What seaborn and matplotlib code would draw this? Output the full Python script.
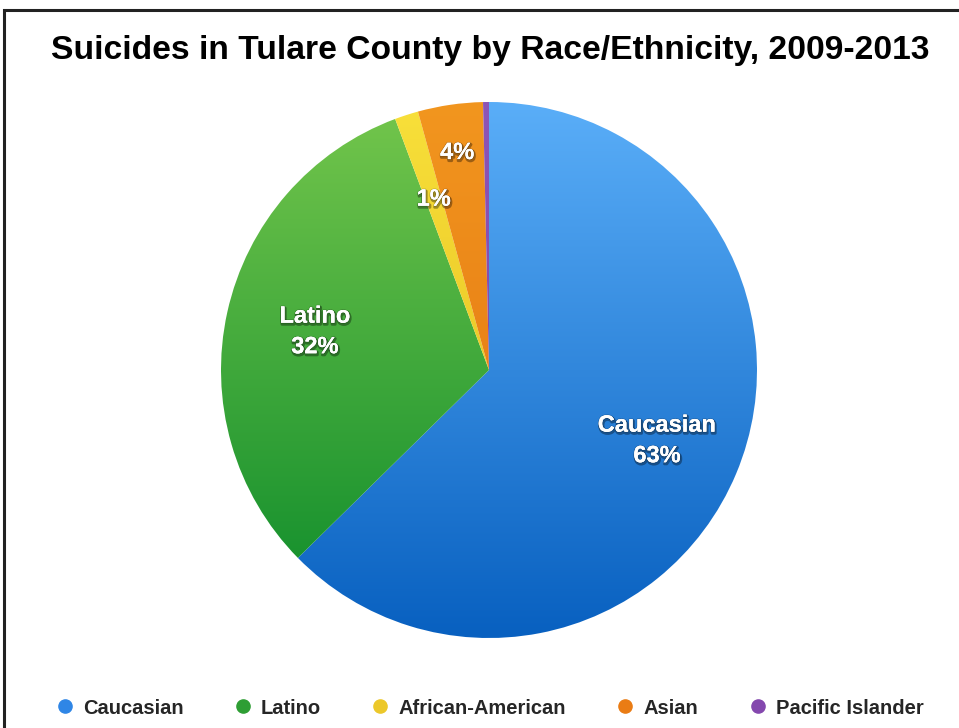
import numpy as np
import matplotlib
matplotlib.use("Agg")
import matplotlib.pyplot as plt
from matplotlib.colors import LinearSegmentedColormap
from matplotlib.lines import Line2D
import matplotlib.patheffects as pe
import seaborn as sns

# Suicide counts by race/ethnicity, Tulare County 2009-2013
groups = ["Caucasian", "Latino", "African-American", "Asian", "Pacific Islander"]
counts = [176, 89, 4, 11, 1]
show_label = [True, True, True, True, False]
show_name = [True, True, False, False, False]

# (light top, dark bottom) gradient stops for each slice
top_colors = ["#5aaef8", "#74c64c", "#f8e03a", "#f2961f", "#8e55b6"]
bottom_colors = ["#0860c0", "#0a8a2a", "#e0b418", "#e06e0e", "#7a3fa2"]
legend_colors = ["#2f86e6", "#2e9e34", "#ecc82a", "#ea7c14", "#8448ae"]

sns.set_theme(style="white")
plt.rcParams["font.family"] = ["Liberation Sans", "DejaVu Sans"]

W, H = 959, 728
fig = plt.figure(figsize=(W / 100, H / 100), dpi=100)
fig.patch.set_facecolor("white")

# frame around the figure area
frame = fig.add_axes([0, 0, 1, 1], zorder=-5)
frame.set_xlim(0, W)
frame.set_ylim(H, 0)
frame.axis("off")
frame.plot([4, 4, W + 5], [H + 5, 10, 10], color="#222222", lw=2.2,
           solid_joinstyle="miter")

cx, cy, R = 489, 370, 268
ax = fig.add_axes([(cx - R) / W, (H - cy - R) / H, 2 * R / W, 2 * R / H])

wedges, _ = ax.pie(counts, startangle=90, counterclock=False, radius=1,
                   colors=["none"] * len(counts),
                   wedgeprops=dict(linewidth=0))

grad = np.linspace(0, 1, 256).reshape(-1, 1)
for w, c0, c1 in zip(wedges, top_colors, bottom_colors):
    cmap = LinearSegmentedColormap.from_list("g", [c0, c1])
    im = ax.imshow(grad, cmap=cmap, extent=[-1, 1, -1, 1], origin="upper",
                   aspect="auto", interpolation="bicubic", zorder=1)
    im.set_clip_path(w)
ax.set_xlim(-1, 1)
ax.set_ylim(-1, 1)
ax.set_aspect("equal")
ax.axis("off")

total = sum(counts)
label_radius = [0.68, 0.665, 0.67, 0.82, 0.67]
for w, g, n, shown, named, r in zip(wedges, groups, counts, show_label,
                                     show_name, label_radius):
    if not shown:
        continue
    mid = np.deg2rad((w.theta1 + w.theta2) / 2)
    pct = f"{round(100 * n / total)}%"
    txt = f"{g}\n{pct}" if named else pct
    t = ax.text(r * np.cos(mid), r * np.sin(mid), txt, ha="center",
                va="center", color="white", fontsize=17, fontweight="bold",
                linespacing=1.42, zorder=5)
    t.set_path_effects([
        pe.SimpleLineShadow(offset=(0.6, -1.2), shadow_color="black",
                            alpha=0.35, linewidth=2.0),
        pe.withStroke(linewidth=1.2, foreground=(0, 0, 0, 0.18)),
        pe.Normal()])

fig.text(490 / W, 1 - 51 / H,
         "Suicides in Tulare County by Race/Ethnicity, 2009-2013",
         ha="center", va="center", fontsize=24.2, fontweight="bold",
         color="black")

handles = [Line2D([], [], marker="o", linestyle="none", markersize=9.5,
                  markerfacecolor=c, markeredgecolor=c) for c in legend_colors]
fig.legend(handles, groups, loc="center", bbox_to_anchor=(489 / W, 1 - 708 / H),
           ncol=5, frameon=False, handletextpad=0.4, columnspacing=2.45,
           prop=dict(weight="bold", size=14.5), handlelength=1.0)

fig.savefig("out.png", dpi=100, facecolor="white")
